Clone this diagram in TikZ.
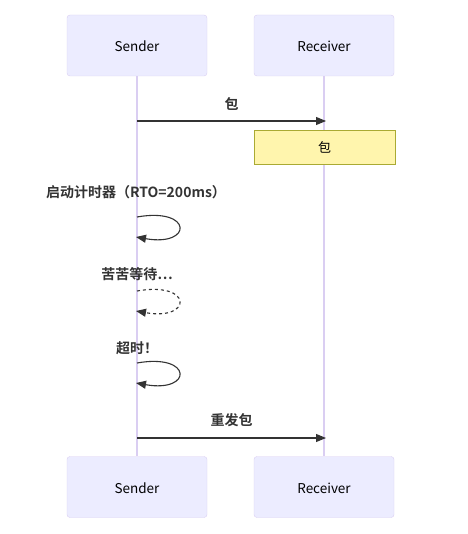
\documentclass[tikz,border=0pt]{standalone}
\usepackage{fontspec}
\setmainfont{Noto Sans CJK SC}[BoldFont={Noto Sans CJK SC Bold}]
\usetikzlibrary{arrows.meta}

\definecolor{actorfill}{HTML}{ECECFF}
\definecolor{actorline}{HTML}{DACEF2}
\definecolor{notefill}{HTML}{FFF5AD}
\definecolor{noteline}{HTML}{AAAA33}
\definecolor{ink}{HTML}{333333}

\tikzset{
  actor/.style={draw=actorline, fill=actorfill, rounded corners=3pt,
    minimum width=140pt, minimum height=61pt, inner sep=0pt,
    text height=13pt, text depth=0pt,
    text=black, font=\fontsize{13.5}{16}\selectfont},
  lifeline/.style={draw=actorline, line width=1.2pt},
  msg/.style={draw=ink, line width=1.1pt, -{Triangle[length=10pt,width=8pt]}},
  msglabel/.style={text=ink, font=\fontsize{14}{16}\selectfont\bfseries},
  note/.style={draw=noteline, fill=notefill, minimum width=141pt,
    minimum height=34pt, inner sep=0pt, font=\fontsize{13}{16}\selectfont}
}

\begin{document}
\begin{tikzpicture}[x=1pt,y=-1pt]
            \useasboundingbox (0,0) rectangle (467,534);

            % Actors
            \node[actor] (sendtop) at (137,45.5) {Sender};
            \node[actor] (recvtop) at (324,45.5) {Receiver};
            \node[actor] (sendbot) at (137,487) {Sender};
            \node[actor] (recvbot) at (324,487) {Receiver};

            % Lifelines
            \draw[lifeline] (sendtop.south) -- (sendbot.north);
            \draw[lifeline] (recvtop.south) -- (recvbot.north);

            % Message coords
            \coordinate (m1a) at (137,121);
            \coordinate (m1b) at (326,121);
            \coordinate (m2a) at (137,438);
            \coordinate (m2b) at (326,438);

            % Packet
            \draw[msg] (m1a) -- (m1b) node[midway,above=7pt,msglabel] {包};
            \node[note] (pkt) at (324.5,147) {包};

            % Self loops
            \node[msglabel] (rto) at (136,192.5) {启动计时器（RTO=200ms）};
            \draw[msg] (137,217) .. controls (193,207) and (193,247) .. (136,237);

            \node[msglabel] (wait) at (137,274.5) {苦苦等待…};
            \draw[msg,dash pattern=on 3pt off 3pt] (137,291) .. controls (193,281) and (193,321) .. (136,311);

            \node[msglabel] (tout) at (137,348.5) {超时！};
            \draw[msg] (137,363) .. controls (193,353) and (193,393) .. (136,383);

            % Resend
            \draw[msg] (m2a) -- (m2b) node[midway,above=7pt,msglabel] {重发包};
        \end{tikzpicture}
\end{document}
